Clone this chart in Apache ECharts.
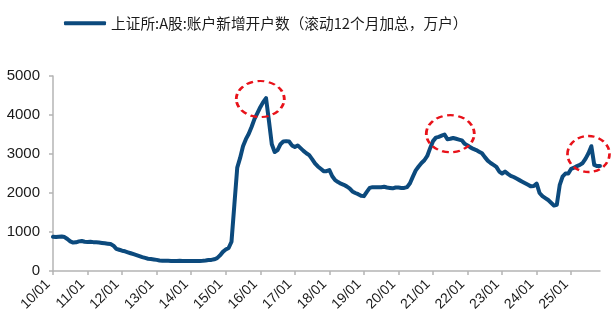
<!DOCTYPE html>
<html>
<head>
<meta charset="utf-8">
<script src="https://cdn.jsdelivr.net/npm/echarts@6/dist/echarts.min.js"></script>
<style>
  html, body { margin: 0; padding: 0; background: #ffffff; }
  #chart { width: 612px; height: 320px; }
</style>
</head>
<body>
<div id="chart"></div>
<script>
// Monthly series, January 2010 onwards
const startYear = 2010;
const seriesName = '上证所:A股:账户新增开户数（滚动12个月加总，万户）';

// Rolling 12-month sum of new A-share accounts (10k accounts)
const accounts = [
  // 2010
  880, 870, 880, 885, 870, 820, 760, 730, 735, 760, 770, 750,
  // 2011
  745, 750, 740, 735, 730, 720, 710, 700, 690, 650, 570, 545,
  // 2012
  520, 505, 480, 455, 430, 405, 380, 355, 335, 315, 305, 295,
  // 2013
  285, 270, 265, 262, 260, 258, 258, 258, 260, 258, 255, 255,
  // 2014
  258, 255, 258, 255, 260, 268, 280, 285, 300, 330, 400, 490,
  // 2015
  550, 590, 750, 1700, 2650, 2900, 3200, 3380, 3520, 3700, 3900, 4050,
  // 2016
  4200, 4330, 4430, 3850, 3250, 3050, 3100, 3250, 3320, 3330, 3320, 3220,
  // 2017
  3180, 3220, 3150, 3080, 3020, 2970, 2870, 2760, 2680, 2620, 2560, 2560,
  // 2018
  2590, 2430, 2330, 2280, 2240, 2210, 2170, 2120, 2040, 2000, 1970, 1930,
  // 2019
  1920, 2030, 2130, 2150, 2150, 2150, 2150, 2160, 2140, 2130, 2120, 2140,
  // 2020
  2140, 2130, 2130, 2150, 2250, 2420, 2580, 2680, 2770, 2840, 2950, 3150,
  // 2021
  3330, 3420, 3440, 3470, 3500, 3380, 3390, 3410, 3390, 3370, 3350, 3260,
  // 2022
  3220, 3170, 3130, 3100, 3060, 3020, 2920, 2830, 2770, 2720, 2670, 2550,
  // 2023
  2500, 2550, 2490, 2440, 2410, 2370, 2330, 2290, 2250, 2210, 2170, 2180,
  // 2024
  2240, 2000, 1920, 1870, 1820, 1750, 1680, 1700, 2200, 2420, 2500, 2500,
  // 2025
  2620, 2650, 2690, 2720, 2770, 2880, 3020, 3200, 2720, 2690, 2690
];

// Y axis scale
const yMin = 0;
const yMax = 5000;
const yStep = 1000;

// Highlighted episodes: [month index, value] at the centre of each dashed ring
const highlightSpots = [
  [72, 4410],
  [138, 3520],
  [186, 3000]
];
const highlightSizes = [[48, 36], [48, 37], [42, 36]];

// Month labels "YY/MM"
const months = accounts.map(function (_, i) {
  const y = startYear + Math.floor(i / 12);
  const m = (i % 12) + 1;
  return String(y % 100).padStart(2, '0') + '/' + String(m).padStart(2, '0');
});

const isYearStart = function (i) { return i % 12 === 0; };

const chart = echarts.init(document.getElementById('chart'), null, { renderer: 'canvas' });

const ringPath = 'path://M0,50 A50,50 0 1,1 100,50 A50,50 0 1,1 0,50 Z';

chart.setOption({
  animation: false,
  backgroundColor: '#ffffff',
  textStyle: { fontFamily: 'Liberation Sans, Arial, sans-serif' },
  legend: {
    data: [seriesName],
    left: 59,
    top: 11,
    icon: 'roundRect',
    itemWidth: 42,
    itemHeight: 4,
    itemGap: 6,
    textStyle: {
      fontFamily: '"Noto Sans CJK SC", sans-serif',
      fontSize: 14.7,
      color: '#1a1a1a'
    }
  },
  grid: { left: 53, right: 12, top: 76, bottom: 49 },
  xAxis: {
    type: 'category',
    data: months,
    boundaryGap: false,
    axisLine: { lineStyle: { color: '#b4b4b4', width: 1.5 } },
    axisTick: {
      interval: function (i) { return isYearStart(i); },
      length: 4,
      lineStyle: { color: '#b4b4b4', width: 1.5 }
    },
    axisLabel: {
      interval: function (i) { return isYearStart(i); },
      rotate: 45,
      fontSize: 14,
      color: '#1a1a1a',
      align: 'right',
      verticalAlign: 'bottom',
      margin: 16
    },
    splitLine: { show: false }
  },
  yAxis: {
    type: 'value',
    min: yMin,
    max: yMax,
    interval: yStep,
    axisLine: { show: true, lineStyle: { color: '#b4b4b4', width: 1.5 } },
    axisTick: { show: true, length: 4, lineStyle: { color: '#b4b4b4', width: 1.5 } },
    axisLabel: {
      fontSize: 15,
      color: '#1a1a1a',
      margin: 13,
      formatter: function (v) { return String(v); }
    },
    splitLine: { show: false }
  },
  series: [{
    name: seriesName,
    type: 'line',
    data: accounts,
    showSymbol: false,
    symbol: 'none',
    color: '#0c4a7d',
    lineStyle: { color: '#0c4a7d', width: 4, cap: 'round', join: 'round' },
    markPoint: {
      silent: true,
      animation: false,
      symbol: ringPath,
      label: { show: false },
      itemStyle: {
        color: 'rgba(0,0,0,0)',
        borderColor: '#e8121a',
        borderWidth: 2.5,
        borderType: [6, 4]
      },
      data: highlightSpots.map(function (p, k) {
        return { coord: p, symbolSize: highlightSizes[k] };
      })
    }
  }]
});
</script>
</body>
</html>
